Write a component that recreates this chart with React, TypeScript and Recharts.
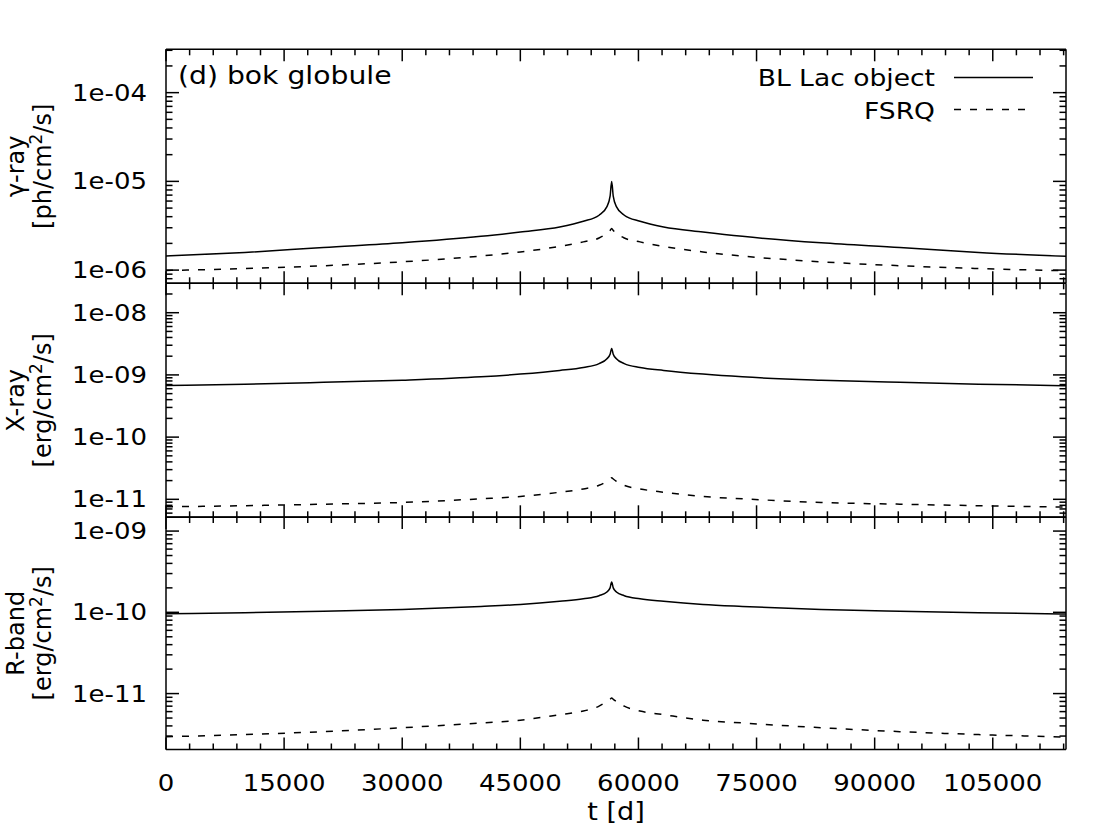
import React from 'react';
import { LineChart, Line, XAxis, YAxis, Legend } from 'recharts';

// ---------- data ----------
const T_DAYS = [0, 10000, 20000, 30000, 40000, 45000, 50000, 53000, 55000, 56000, 56400, 56600, 56800, 57200, 58200, 60200, 63200, 68200, 73200, 83200, 93200, 103200, 114300];

const GAMMA_BL = [1.44e-6, 1.58e-6, 1.8e-6, 2.03e-6, 2.4e-6, 2.69e-6, 3.06e-6, 3.55e-6, 4.15e-6, 5.2e-6, 6.8e-6, 1.0e-5, 6.8e-6, 5.2e-6, 4.15e-6, 3.55e-6, 3.06e-6, 2.69e-6, 2.4e-6, 2.03e-6, 1.8e-6, 1.58e-6, 1.43e-6];
const GAMMA_FSRQ = [9.9e-7, 1.04e-6, 1.12e-6, 1.24e-6, 1.44e-6, 1.6e-6, 1.85e-6, 2.08e-6, 2.3e-6, 2.6e-6, 2.8e-6, 2.95e-6, 2.8e-6, 2.6e-6, 2.3e-6, 2.08e-6, 1.85e-6, 1.6e-6, 1.44e-6, 1.24e-6, 1.12e-6, 1.04e-6, 9.85e-7];

const XRAY_BL = [6.74e-10, 7.1e-10, 7.6e-10, 8.22e-10, 9.3e-10, 1.03e-9, 1.18e-9, 1.32e-9, 1.52e-9, 1.82e-9, 2.15e-9, 2.67e-9, 2.15e-9, 1.82e-9, 1.52e-9, 1.32e-9, 1.18e-9, 1.03e-9, 9.3e-10, 8.22e-10, 7.6e-10, 7.1e-10, 6.7e-10];
const XRAY_FSRQ = [7.57e-12, 7.9e-12, 8.35e-12, 8.9e-12, 1.02e-11, 1.11e-11, 1.3e-11, 1.47e-11, 1.68e-11, 1.95e-11, 2.12e-11, 2.22e-11, 2.12e-11, 1.95e-11, 1.68e-11, 1.47e-11, 1.3e-11, 1.11e-11, 1.02e-11, 8.9e-12, 8.35e-12, 7.9e-12, 7.5e-12];

const RBAND_BL = [9.6e-11, 9.9e-11, 1.03e-10, 1.08e-10, 1.18e-10, 1.25e-10, 1.37e-10, 1.47e-10, 1.6e-10, 1.78e-10, 2.0e-10, 2.36e-10, 2.0e-10, 1.78e-10, 1.6e-10, 1.47e-10, 1.37e-10, 1.25e-10, 1.18e-10, 1.08e-10, 1.03e-10, 9.9e-11, 9.55e-11];
const RBAND_FSRQ = [2.94e-12, 3.13e-12, 3.4e-12, 3.8e-12, 4.35e-12, 4.7e-12, 5.5e-12, 6.1e-12, 7.0e-12, 8.0e-12, 8.5e-12, 8.8e-12, 8.5e-12, 8.0e-12, 7.0e-12, 6.1e-12, 5.5e-12, 4.7e-12, 4.35e-12, 3.8e-12, 3.4e-12, 3.13e-12, 2.92e-12];

const SERIES_NAMES = ['BL Lac object', 'FSRQ'];
const TITLE = '(d) bok globule';
const X_LABEL = 't [d]';

const X_DOMAIN = [0, 114300];
const X_MAJOR = [0, 15000, 30000, 45000, 60000, 75000, 90000, 105000];
const X_MAJOR_LABELS = ['0', '15000', '30000', '45000', '60000', '75000', '90000', '105000'];
const X_MINOR_STEP = 3000;

const GAMMA_MAJOR = [1e-6, 1e-5, 1e-4];
const GAMMA_LABELS = ['1e-06', '1e-05', '1e-04'];
const XRAY_MAJOR = [1e-11, 1e-10, 1e-9, 1e-8];
const XRAY_LABELS = ['1e-11', '1e-10', '1e-09', '1e-08'];
const RBAND_MAJOR = [1e-11, 1e-10, 1e-9];
const RBAND_LABELS = ['1e-11', '1e-10', '1e-09'];
const LOG_MULT = [1, 2, 3, 4, 5, 6, 7, 8, 9];

// ---------- helpers ----------
const FONT = 'DejaVu Sans';
const SX = 1.13;

const build = (bl: number[], fs: number[]) => T_DAYS.map((t, i) => ({ t, bl: bl[i], fsrq: fs[i] }));

const xTicks: number[] = [];
for (let v = 0; v <= X_DOMAIN[1]; v += X_MINOR_STEP) xTicks.push(v);

const logTicks = (domain: number[]) => {
  const out: number[] = [];
  const lo = Math.floor(Math.log10(domain[0]));
  const hi = Math.ceil(Math.log10(domain[1]));
  for (let e = lo; e <= hi; e++) {
    for (const k of LOG_MULT) {
      const v = k * Math.pow(10, e);
      if (v >= domain[0] && v <= domain[1]) out.push(v);
    }
  }
  return out;
};

const isMajorLog = (v: number, majors: number[]) => majors.findIndex((m) => Math.abs(v / m - 1) < 1e-6);

const T = (props: any) => {
  const { x, y, anchor, children, size } = props;
  return (
    <text
      transform={`translate(${x},${y}) scale(${SX},1)`}
      textAnchor={anchor}
      fontFamily={FONT}
      fontSize={size || 23}
      fill="#000"
    >
      {children}
    </text>
  );
};

const AX = { stroke: '#000', strokeWidth: 1.5 };

type PanelProps = {
  data: any[];
  top: number;
  bottom: number;
  domain: number[];
  majors: number[];
  labels: string[];
  showX: boolean;
  ylab1: string;
  ylab2pre: string;
  ylab2post: string;
  legend?: boolean;
};

function Panel(p: PanelProps) {
  const yTicks = logTicks(p.domain);
  const mid = (p.top + p.bottom) / 2;

  const bottomTick = (props: any) => {
    const { x, y, payload } = props;
    const v = payload.value;
    const mi = X_MAJOR.indexOf(v);
    const len = mi >= 0 ? 12 : 6;
    return (
      <g>
        <line x1={x} x2={x} y1={y} y2={y - len} stroke="#000" strokeWidth={1.5} />
        {p.showX && mi >= 0 ? (
          <T x={x} y={y + 41.5} anchor="middle">{X_MAJOR_LABELS[mi]}</T>
        ) : null}
      </g>
    );
  };
  const topTick = (props: any) => {
    const { x, y, payload } = props;
    const len = X_MAJOR.indexOf(payload.value) >= 0 ? 12 : 6;
    return <line x1={x} x2={x} y1={y} y2={y + len} stroke="#000" strokeWidth={1.5} />;
  };
  const leftTick = (props: any) => {
    const { x, y, payload } = props;
    const mi = isMajorLog(payload.value, p.majors);
    const len = mi >= 0 ? 13 : 6.5;
    return (
      <g>
        <line x1={x} x2={x + len} y1={y} y2={y} stroke="#000" strokeWidth={1.5} />
        {mi >= 0 ? (
          <T x={x - 19} y={y + 8} anchor="end">{p.labels[mi]}</T>
        ) : null}
      </g>
    );
  };
  const rightTick = (props: any) => {
    const { x, y, payload } = props;
    const len = isMajorLog(payload.value, p.majors) >= 0 ? 13 : 6.5;
    return <line x1={x} x2={x - len} y1={y} y2={y} stroke="#000" strokeWidth={1.5} />;
  };

  const yTitle = () => (
    <g fontFamily={FONT} fontSize={24} fill="#000">
      <text x={24} y={mid} textAnchor="middle" transform={`rotate(-90, 24, ${mid})`}>{p.ylab1}</text>
      <text x={51} y={mid} textAnchor="middle" transform={`rotate(-90, 51, ${mid})`}>
        {p.ylab2pre}
        <tspan dy={-9} fontSize={17}>2</tspan>
        <tspan dy={9}>{p.ylab2post}</tspan>
      </text>
    </g>
  );

  const xTitle = () => (p.showX ? <T x={616} y={820} anchor="middle" size={24}>{X_LABEL}</T> : null);

  const legendContent = () => (
    <svg width={1111} height={140} style={{ display: 'block' }}>
      <T x={178} y={84} anchor="start" size={25}>{TITLE}</T>
      <T x={935} y={86} anchor="end" size={23.5}>{SERIES_NAMES[0]}</T>
      <line x1={954} x2={1033} y1={77.5} y2={77.5} stroke="#000" strokeWidth={1.5} />
      <T x={935} y={119} anchor="end" size={23.5}>{SERIES_NAMES[1]}</T>
      <line x1={954} x2={1033} y1={109.5} y2={109.5} stroke="#000" strokeWidth={1.5} strokeDasharray="7 9" />
    </svg>
  );

  return (
    <div style={{ position: 'absolute', left: 0, top: 0, width: 1111, height: 834 }}>
      <LineChart
        width={1111}
        height={834}
        data={p.data}
        margin={{ top: p.top - 20, bottom: 834 - p.bottom - 20, left: 66, right: 5 }}
      >
        <XAxis
          xAxisId="b"
          dataKey="t"
          type="number"
          domain={X_DOMAIN}
          allowDataOverflow
          ticks={xTicks}
          interval={0}
          orientation="bottom"
          height={20}
          tickSize={0}
          tickMargin={0}
          tickLine={false}
          axisLine={AX}
          tick={bottomTick}
          label={{ content: xTitle }}
        />
        <XAxis
          xAxisId="t"
          dataKey="t"
          type="number"
          domain={X_DOMAIN}
          allowDataOverflow
          ticks={xTicks}
          interval={0}
          orientation="top"
          height={20}
          tickSize={0}
          tickMargin={0}
          tickLine={false}
          axisLine={AX}
          tick={topTick}
        />
        <YAxis
          yAxisId="l"
          type="number"
          scale="log"
          domain={p.domain}
          allowDataOverflow
          ticks={yTicks}
          interval={0}
          orientation="left"
          width={100}
          tickSize={0}
          tickMargin={0}
          tickLine={false}
          axisLine={AX}
          tick={leftTick}
          label={{ content: yTitle }}
        />
        <YAxis
          yAxisId="r"
          type="number"
          scale="log"
          domain={p.domain}
          allowDataOverflow
          ticks={yTicks}
          interval={0}
          orientation="right"
          width={40}
          tickSize={0}
          tickMargin={0}
          tickLine={false}
          axisLine={AX}
          tick={rightTick}
        />
        {p.legend ? (
          <Legend
            layout="horizontal"
            verticalAlign="middle"
            align="center"
            content={legendContent}
            wrapperStyle={{ position: 'absolute', left: 0, top: 0, width: 1111, height: 140, pointerEvents: 'none' }}
          />
        ) : null}
        <Line
          xAxisId="b"
          yAxisId="l"
          type="monotone"
          dataKey="bl"
          name={SERIES_NAMES[0]}
          stroke="#000"
          strokeWidth={1.5}
          dot={false}
          activeDot={false}
          isAnimationActive={false}
        />
        <Line
          xAxisId="b"
          yAxisId="l"
          type="monotone"
          dataKey="fsrq"
          name={SERIES_NAMES[1]}
          stroke="#000"
          strokeWidth={1.5}
          strokeDasharray="7 9"
          dot={false}
          activeDot={false}
          isAnimationActive={false}
        />
      </LineChart>
    </div>
  );
}

export default function App() {
  return (
    <div style={{ position: 'absolute', left: 0, top: 0, width: 1111, height: 834, background: '#fff' }}>
      <Panel
        data={build(GAMMA_BL, GAMMA_FSRQ)}
        top={49.3}
        bottom={283.3}
        domain={[7.1e-7, 3.08e-4]}
        majors={GAMMA_MAJOR}
        labels={GAMMA_LABELS}
        showX={false}
        ylab1="γ-ray"
        ylab2pre="[ph/cm"
        ylab2post="/s]"
        legend
      />
      <Panel
        data={build(XRAY_BL, XRAY_FSRQ)}
        top={283.3}
        bottom={517.3}
        domain={[5.14e-12, 2.97e-8]}
        majors={XRAY_MAJOR}
        labels={XRAY_LABELS}
        showX={false}
        ylab1="X-ray"
        ylab2pre="[erg/cm"
        ylab2post="/s]"
      />
      <Panel
        data={build(RBAND_BL, RBAND_FSRQ)}
        top={517}
        bottom={749.5}
        domain={[2.05e-12, 1.49e-9]}
        majors={RBAND_MAJOR}
        labels={RBAND_LABELS}
        showX={true}
        ylab1="R-band"
        ylab2pre="[erg/cm"
        ylab2post="/s]"
      />
    </div>
  );
}
